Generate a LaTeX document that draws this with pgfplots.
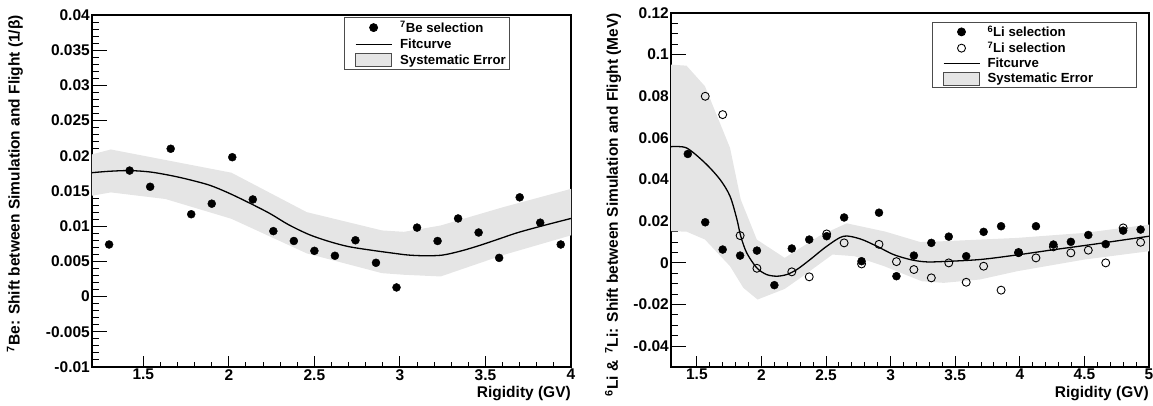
\documentclass[border=0pt]{standalone}
\usepackage{fontspec}
\setmainfont{Liberation Sans}
\usepackage{pgfplots}
\pgfplotsset{compat=1.18}

\definecolor{bandgray}{gray}{0.90}
\definecolor{framegray}{gray}{0.30}

\pgfplotsset{
  rootstyle/.style={
    scale only axis,
    axis line style={line width=1.3pt},
    tick align=inside,
    xtick pos=bottom, ytick pos=left,
    major tick length=11pt, minor tick length=5pt,
    every tick/.style={black, line width=1pt},
    ytick style={/pgfplots/major tick length=15pt, /pgfplots/minor tick length=7pt},
    tick label style={font=\bfseries\fontsize{15.5}{17}\selectfont, inner sep=2pt},
    label style={font=\bfseries\fontsize{15.5}{17}\selectfont},
    minor x tick num=4,
    scaled ticks=false,
    xlabel style={at={(rel axis cs:1,0)}, anchor=north east, inner sep=0pt, yshift=-19pt},
    legend cell align=left,
    legend style={draw=framegray, line width=0.8pt,
      font=\bfseries\fontsize{13.2}{15}\selectfont,
      nodes={inner sep=2.5pt}, row sep=0pt, inner sep=1.5pt},
  },
  ptimg/.style={legend image code/.code={\path[draw=none,fill=none] (0pt,0pt) -- (52pt,0pt);\draw[##1] plot coordinates {(28pt,0pt)};}},
  lineimg/.style={legend image code/.code={\path[draw=none,fill=none] (0pt,0pt) -- (52pt,0pt);\draw[##1] (10pt,0pt) -- (46pt,0pt);}},
  bandimg/.style={legend image code/.code={\path[draw=none,fill=none] (0pt,0pt) -- (52pt,0pt);\draw[##1, draw=framegray, line width=0.8pt] (10pt,-6.5pt) rectangle (46pt,6.5pt);}},
}

\begin{document}
\begin{tikzpicture}
\useasboundingbox (0pt,0pt) rectangle (1153pt,406pt);

% left panel: 7Be
\begin{axis}[
    rootstyle,
    at={(92pt,39pt)}, anchor=south west,
    width=479pt, height=352pt,
    xmin=1.2, xmax=4, ymin=-0.01, ymax=0.04,
    xtick={1.5,2,2.5,3,3.5,4},
    xticklabels={1.5,2,2.5,3,3.5,4},
    ytick={-0.01,-0.005,0,0.005,0.01,0.015,0.02,0.025,0.03,0.035,0.04},
    yticklabels={-0.01,-0.005,0,0.005,0.01,0.015,0.02,0.025,0.03,0.035,0.04},
    minor y tick num=4,
    xlabel={Rigidity (GV)},
    ylabel={\textsuperscript{7}Be: Shift between Simulation and Flight (1/β)},
    ylabel style={at={(rel axis cs:-0.161,1)}, anchor=east, inner sep=0pt, yshift=0pt},
    legend style={at={(0.873,0.994)}, anchor=north east},
]
\addplot[fill=bandgray, draw=none, forget plot] coordinates {
  (1.2,0.0202) (1.31,0.0209) (2.015,0.0176) (2.455,0.0120) (2.895,0.0094)
  (3.024,0.0092) (3.238,0.0101) (3.603,0.0127) (4.0,0.0153)
  (4.0,0.0087) (3.603,0.0059) (3.238,0.00286) (3.024,0.0031) (2.895,0.00333)
  (2.455,0.00614) (2.015,0.01105) (1.63,0.01386) (1.31,0.0148) (1.2,0.01433)
} -- cycle;
\addplot[black, line width=1.3pt, smooth, forget plot] coordinates {
  (1.2,0.0176) (1.3,0.0178) (1.42,0.0179) (1.54,0.0177) (1.66,0.0172)
  (1.77,0.0166) (1.89,0.0158) (2.0,0.0147) (2.12,0.0133) (2.24,0.0118)
  (2.35,0.0102) (2.47,0.0088) (2.59,0.0078) (2.70,0.0071) (2.83,0.0066)
  (2.95,0.0062) (3.05,0.0059) (3.15,0.0058) (3.25,0.0059) (3.36,0.0065)
  (3.47,0.0073) (3.58,0.0082) (3.69,0.0091) (3.84,0.0101) (4.0,0.0111)
};
\addplot[only marks, mark=*, mark size=4pt, black, ptimg] coordinates {
  (1.30,0.0074) (1.42,0.0179) (1.54,0.0156) (1.66,0.0210) (1.78,0.0117)
  (1.90,0.0132) (2.02,0.0198) (2.14,0.0138) (2.26,0.0093) (2.38,0.0079)
  (2.50,0.0065) (2.62,0.0058) (2.74,0.0080) (2.86,0.0048) (2.98,0.0013)
  (3.10,0.0098) (3.22,0.0079) (3.34,0.0111) (3.46,0.0091) (3.58,0.0055)
  (3.70,0.0141) (3.82,0.0105) (3.94,0.0074)
};
\addlegendimage{black, line width=1.3pt, lineimg}
\addlegendimage{fill=bandgray, bandimg}
\legend{\textsuperscript{7}Be selection, Fitcurve, Systematic Error}
\end{axis}

% right panel: 6Li & 7Li
\begin{axis}[
    rootstyle,
    at={(671pt,39pt)}, anchor=south west,
    width=478pt, height=354pt,
    xmin=1.3, xmax=5, ymin=-0.05, ymax=0.12,
    xtick={1.5,2,2.5,3,3.5,4,4.5,5},
    xticklabels={1.5,2,2.5,3,3.5,4,4.5,5},
    ytick={-0.04,-0.02,0,0.02,0.04,0.06,0.08,0.1,0.12},
    yticklabels={-0.04,-0.02,0,0.02,0.04,0.06,0.08,0.1,0.12},
    minor y tick num=3,
    xlabel={Rigidity (GV)},
    ylabel={\textsuperscript{6}Li \& \,\textsuperscript{7}Li: Shift between Simulation and Flight (MeV)},
    ylabel style={at={(rel axis cs:-0.121,1)}, anchor=east, inner sep=0pt},
    legend style={at={(0.975,0.975)}, anchor=north east, nodes={inner sep=2pt}},
]
\addplot[fill=bandgray, draw=none, forget plot] coordinates {
  (1.3,0.0952) (1.42,0.0947) (1.563,0.0848) (1.757,0.0552) (1.84,0.0304)
  (1.964,0.0112) (2.18,0.0024) (2.45,0.0130) (2.66,0.0190) (2.96,0.0150)
  (3.23,0.0100) (3.41,0.0104) (3.98,0.0120) (4.5,0.0144) (5.0,0.0184)
  (5.0,0.0056) (4.5,0.0016) (3.98,-0.0040) (3.69,-0.0080) (3.41,-0.0096)
  (3.24,-0.0088) (2.95,-0.0016) (2.72,0.0032) (2.55,0.0040) (2.32,-0.0064)
  (2.18,-0.0125) (1.97,-0.0176) (1.86,-0.0120) (1.757,-0.0016)
  (1.563,0.0112) (1.42,0.0150) (1.3,0.0152)
} -- cycle;
\addplot[black, line width=1.3pt, smooth, forget plot] coordinates {
  (1.3,0.0558) (1.42,0.0552) (1.563,0.0480) (1.68,0.0400) (1.757,0.0320)
  (1.809,0.0212) (1.84,0.0128) (1.886,0.0048) (1.964,-0.0024) (2.04,-0.0056)
  (2.119,-0.0064) (2.196,-0.0056) (2.274,-0.0032) (2.377,0.0016) (2.506,0.0080)
  (2.635,0.0128) (2.765,0.0115) (2.893,0.0080) (3.022,0.0040) (3.151,0.0016)
  (3.25,0.0006) (3.35,0.0005) (3.69,0.0016) (4.0,0.0040) (4.27,0.0064)
  (4.555,0.0088) (5.0,0.0128)
};
\addplot[only marks, mark=*, mark size=4pt, black, ptimg] coordinates {
  (1.430,0.0523) (1.565,0.0195) (1.700,0.0064) (1.835,0.0035) (1.965,0.0059)
  (2.100,-0.0107) (2.235,0.0069) (2.370,0.0112) (2.505,0.0128) (2.640,0.0218)
  (2.775,0.0008) (2.910,0.0241) (3.045,-0.0064) (3.180,0.0035) (3.315,0.0096)
  (3.450,0.0126) (3.585,0.0032) (3.720,0.0149) (3.855,0.0176) (3.990,0.0048)
  (4.125,0.0176) (4.260,0.0088) (4.395,0.0101) (4.530,0.0134) (4.665,0.0090)
  (4.800,0.0155) (4.935,0.0160)
};
\addplot[only marks, mark=o, mark size=4pt, black, line width=0.9pt, ptimg] coordinates {
  (1.565,0.0800) (1.700,0.0712) (1.835,0.0131) (1.965,-0.0026) (2.235,-0.0043)
  (2.370,-0.0067) (2.505,0.0139) (2.640,0.0096) (2.775,-0.0005) (2.910,0.0089)
  (3.045,0.0006) (3.180,-0.0032) (3.315,-0.0072) (3.450,0.0000) (3.585,-0.0093)
  (3.720,-0.0016) (3.855,-0.0131) (3.990,0.0050) (4.125,0.0024) (4.260,0.0077)
  (4.395,0.0048) (4.530,0.0061) (4.665,0.0000) (4.800,0.0168) (4.935,0.0099)
};
\addlegendimage{black, line width=1.3pt, lineimg}
\addlegendimage{fill=bandgray, bandimg}
\legend{\textsuperscript{6}Li selection, \textsuperscript{7}Li selection, Fitcurve, Systematic Error\hspace*{40pt}}
\end{axis}
\end{tikzpicture}
\end{document}
